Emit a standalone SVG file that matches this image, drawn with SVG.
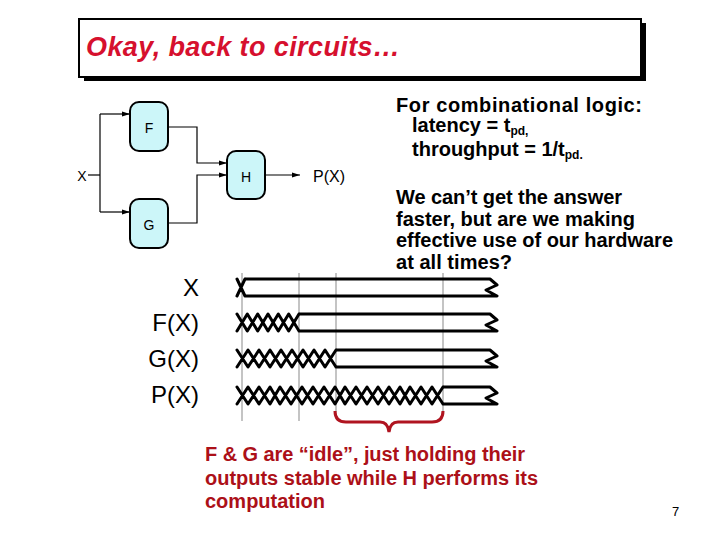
<svg xmlns="http://www.w3.org/2000/svg" width="720" height="540" viewBox="0 0 720 540">
<style>
.box{fill:#ccf6f9;stroke:#000;stroke-width:2}
.lbl{font-family:"Liberation Sans",Arial,sans-serif;font-size:14px;fill:#000;text-anchor:middle}
.wire{fill:none;stroke:#000;stroke-width:1.2}
.sig{font-family:"Liberation Sans",Arial,sans-serif;font-size:24px;fill:#000;text-anchor:end}
.bt{font-family:"Liberation Sans",Arial,sans-serif;font-weight:bold;font-size:20px;fill:#000}
.red{font-family:"Liberation Sans",Arial,sans-serif;font-weight:bold;font-size:20px;fill:#ac1018}
.wave{fill:none;stroke:#000;stroke-width:3;stroke-linejoin:round;stroke-linecap:round}
.grid{stroke:#c4c4c4;stroke-width:2}
</style>
<defs>
<marker id="ah" markerUnits="userSpaceOnUse" markerWidth="8" markerHeight="6" refX="8" refY="3" orient="auto">
<path d="M0,0.5 L8,3 L0,5.5 Z" fill="#000"/>
</marker>
</defs>
<rect width="720" height="540" fill="#fff"/>

<!-- title -->
<g id="title">
<rect x="84" y="23" width="562" height="58" fill="#000"/>
<rect x="79" y="19" width="562" height="58" fill="#fff" stroke="#000" stroke-width="2"/>
<text x="86" y="56" font-family="'Liberation Sans',Arial,sans-serif" font-weight="bold" font-style="italic" font-size="27" fill="#d6102e" textLength="314">Okay, back to circuits…</text>
</g>

<!-- circuit connectors -->
<g id="connectors">
<path class="wire" d="M88,175 H100"/>
<path class="wire" d="M100,114 V212"/>
<path class="wire" d="M100,114 H130" marker-end="url(#ah)"/>
<path class="wire" d="M100,212 H130" marker-end="url(#ah)"/>
<path class="wire" d="M168,127 H197 V163 H227" marker-end="url(#ah)"/>
<path class="wire" d="M168,223 H197 V175 H227" marker-end="url(#ah)"/>
<path class="wire" d="M265,175 H300" marker-end="url(#ah)"/>
</g>

<g id="nodeX"><text x="82" y="181" class="lbl" font-size="16">X</text></g>
<g id="nodeF"><rect class="box" x="130" y="102" width="38" height="49" rx="9"/><text x="149" y="133" class="lbl">F</text></g>
<g id="nodeG"><rect class="box" x="130" y="199" width="38" height="49" rx="9"/><text x="149" y="230" class="lbl">G</text></g>
<g id="nodeH"><rect class="box" x="227" y="151" width="38" height="48" rx="9"/><text x="246" y="182" class="lbl">H</text></g>
<g id="nodeP"><text x="313" y="182" font-family="'Liberation Sans',Arial,sans-serif" font-size="16">P(X)</text></g>

<!-- right text -->
<g id="notes">
<text class="bt" x="396" y="112" textLength="246">For combinational logic:</text>
<text class="bt" x="412" y="132">latency = t<tspan font-size="12" dy="3">pd,</tspan></text>
<text class="bt" x="412" y="156">throughput = 1/t<tspan font-size="12" dy="3">pd.</tspan></text>
<text class="bt" x="396" y="204" textLength="226">We can’t get the answer</text>
<text class="bt" x="396" y="225.5" textLength="239">faster, but are we making</text>
<text class="bt" x="396" y="247" textLength="277">effective use of our hardware</text>
<text class="bt" x="396" y="268.5" textLength="116">at all times?</text>
</g>

<!-- timing diagram -->
<g id="timing">
<line class="grid" x1="242" y1="273" x2="242" y2="421"/>
<line class="grid" x1="299" y1="273" x2="299" y2="421"/>
<line class="grid" x1="336" y1="273" x2="336" y2="412"/>
<line class="grid" x1="443" y1="273" x2="443" y2="412"/>

<text class="sig" x="199" y="296" font-size="19" textLength="15">X</text>
<text class="sig" x="199" y="331">F(X)</text>
<text class="sig" x="199" y="367">G(X)</text>
<text class="sig" x="199" y="403">P(X)</text>

<path class="wave" d="M237,279 L245,296 M237,296 L245,279 M245,279 H490 L497,285 L486,290 L497,296 H245"/>
<path class="wave" d="M237,314 L247.3,331 L257.7,314 L268,331 L278.3,314 L288.7,331 L299,314 M237,331 L247.3,314 L257.7,331 L268,314 L278.3,331 L288.7,314 L299,331 M299,314 H490 L497,320 L486,325 L497,331 H299"/>
<path class="wave" d="M237,350 L248,367 L259,350 L270,367 L281,350 L292,367 L303,350 L314,367 L325,350 L336,367 M237,367 L248,350 L259,367 L270,350 L281,367 L292,350 L303,367 L314,350 L325,367 L336,350 M336,350 H490 L497,356 L486,361 L497,367 H336"/>
<path class="wave" d="M237,387 L248,404 L259,387 L270,404 L280,387 L291,404 L302,387 L313,404 L324,387 L335,404 L345,387 L356,404 L367,387 L378,404 L389,387 L400,404 L410,387 L421,404 L432,387 L443,404 M237,404 L248,387 L259,404 L270,387 L280,404 L291,387 L302,404 L313,387 L324,404 L335,387 L345,404 L356,387 L367,404 L378,387 L389,404 L400,387 L410,404 L421,387 L432,404 L443,387 M443,387 H490 L497,393 L486,398 L497,404 H443"/>

<path d="M335,411 Q335,422 346,422 H380 Q388,422 389,432 Q390,422 398,422 H432 Q443,422 443,411" fill="none" stroke="#b01420" stroke-width="3"/>
</g>

<g id="caption">
<text class="red" x="205" y="461" textLength="320">F &amp; G are “idle”, just holding their</text>
<text class="red" x="205" y="485" textLength="333">outputs stable while H performs its</text>
<text class="red" x="205" y="508" textLength="120">computation</text>
</g>

<text x="672" y="516" font-family="'Liberation Sans',Arial,sans-serif" font-size="13" fill="#000">7</text>
</svg>
